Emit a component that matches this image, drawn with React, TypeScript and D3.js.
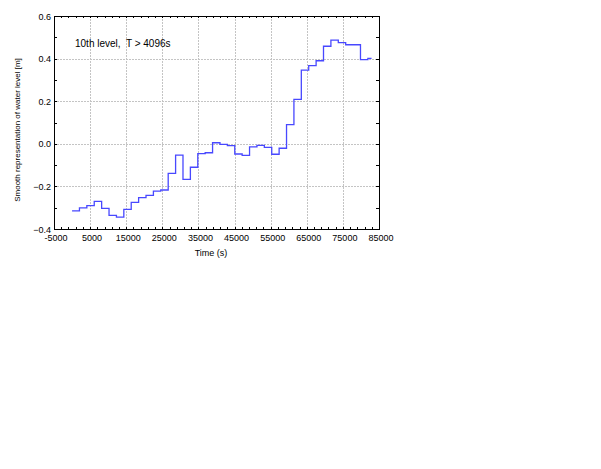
import React, { useRef, useEffect } from 'react';
import * as d3 from 'd3';

// step start times (s) and smoothed water level (m)
const stepTimes: number[] = [
    0, 2048, 4096, 6144, 8192, 10240, 12288, 14336, 16384, 18432,
    20480, 22528, 24576, 26624, 28672, 30720, 32768, 34816, 36864, 38912,
    40960, 43008, 45056, 47104, 49152, 51200, 53248, 55296, 57344, 59392,
    61440, 63488, 65536, 67584, 69632, 71680, 73728, 75776, 77824, 79872,
    81920,
];
const endTime = 82944;

const levels: number[] = [
    -0.315, -0.301, -0.29, -0.27, -0.303, -0.336, -0.344, -0.308, -0.275, -0.253,
    -0.242, -0.222, -0.217, -0.139, -0.053, -0.167, -0.11, -0.046, -0.042, 0.005,
    -0.003, -0.009, -0.048, -0.054, -0.014, -0.007, -0.017, -0.049, -0.021, 0.09,
    0.209, 0.346, 0.367, 0.39, 0.458, 0.487, 0.475, 0.465, 0.465, 0.395,
    0.401,
];

const xTicks = [-5000, 5000, 15000, 25000, 35000, 45000, 55000, 65000, 75000, 85000];
const yTicks = [-0.4, -0.2, 0.0, 0.2, 0.4, 0.6];

const annotation = '10th level,  T > 4096s';
const xTitle = 'Time (s)';
const yTitle = 'Smooth representation of water level [m]';

function App(): React.ReactElement {
    const ref = useRef<SVGSVGElement | null>(null);

    useEffect(() => {
        if (!ref.current) return;
        const svg = d3.select(ref.current);
        svg.selectAll('*').remove();

        const left = 54, right = 379, top = 16, bottom = 229;
        const font = '"Liberation Sans", Arial, sans-serif';

        const x = d3.scaleLinear().domain([-5000, 85000]).range([left, right]);
        const y = d3.scaleLinear().domain([-0.4, 0.6]).range([bottom, top]);

        svg.append('rect').attr('width', 601).attr('height', 469).attr('fill', '#fff');

        // grid
        const grid = svg.append('g')
            .attr('stroke', '#c4c4c4')
            .attr('stroke-width', 1)
            .attr('stroke-dasharray', '2,1');
        xTicks.slice(1, -1).forEach(t => {
            const px = Math.round(x(t)) + 0.5;
            grid.append('line').attr('x1', px).attr('x2', px).attr('y1', top).attr('y2', bottom);
        });
        yTicks.slice(1, -1).forEach(t => {
            const py = Math.round(y(t)) + 0.5;
            grid.append('line').attr('x1', left).attr('x2', right).attr('y1', py).attr('y2', py);
        });

        // inward minor ticks on all sides
        const tickG = svg.append('g').attr('stroke', '#000').attr('stroke-width', 1);
        d3.range(-5000, 85001, 2000).forEach(t => {
            const px = Math.round(x(t)) + 0.5;
            tickG.append('line').attr('x1', px).attr('x2', px).attr('y1', bottom).attr('y2', bottom - 2);
            tickG.append('line').attr('x1', px).attr('x2', px).attr('y1', top).attr('y2', top + 2);
        });
        d3.range(-4, 7).map(v => v / 10).forEach(t => {
            const py = Math.round(y(t)) + 0.5;
            tickG.append('line').attr('x1', left).attr('x2', left + 3).attr('y1', py).attr('y2', py);
            tickG.append('line').attr('x1', right).attr('x2', right - 3).attr('y1', py).attr('y2', py);
        });

        // frame
        svg.append('rect')
            .attr('x', left + 0.5).attr('y', top + 0.5)
            .attr('width', right - left).attr('height', bottom - top)
            .attr('fill', 'none').attr('stroke', '#000').attr('stroke-width', 1);

        // step line
        const pts: [number, number][] = stepTimes.map((t, i) => [t, levels[i]]);
        pts.push([endTime, levels[levels.length - 1]]);
        const line = d3.line<[number, number]>()
            .x(d => x(d[0]))
            .y(d => y(d[1]))
            .curve(d3.curveStepAfter);
        svg.append('path')
            .attr('d', line(pts) ?? '')
            .attr('fill', 'none')
            .attr('stroke', '#4848ff')
            .attr('stroke-width', 1.3);

        // tick labels
        svg.append('g').selectAll('text').data(xTicks).join('text')
            .attr('x', d => x(d) + 2)
            .attr('y', 241)
            .attr('text-anchor', 'middle')
            .style('font-family', font)
            .style('font-size', '9px')
            .text(d => String(d));

        svg.append('g').selectAll('text').data(yTicks).join('text')
            .attr('x', 51)
            .attr('y', d => y(d) + 3.5)
            .attr('text-anchor', 'end')
            .style('font-family', font)
            .style('font-size', '9px')
            .text(d => d3.format('.1f')(d));

        // titles
        svg.append('text')
            .attr('x', 211).attr('y', 256)
            .attr('text-anchor', 'middle')
            .style('font-family', font).style('font-size', '9px')
            .text(xTitle);

        svg.append('text')
            .attr('transform', 'translate(20,130) rotate(-90)')
            .attr('text-anchor', 'middle')
            .style('font-family', font).style('font-size', '8px')
            .text(yTitle);

        svg.append('text')
            .attr('x', 75).attr('y', 47)
            .style('font-family', font).style('font-size', '10px')
            .style('white-space', 'pre')
            .text(annotation);
    }, []);

    return (
        <svg
            ref={ref}
            width={601}
            height={469}
            style={{ position: 'absolute', left: 0, top: 0 }}
        />
    );
}

export default App;
